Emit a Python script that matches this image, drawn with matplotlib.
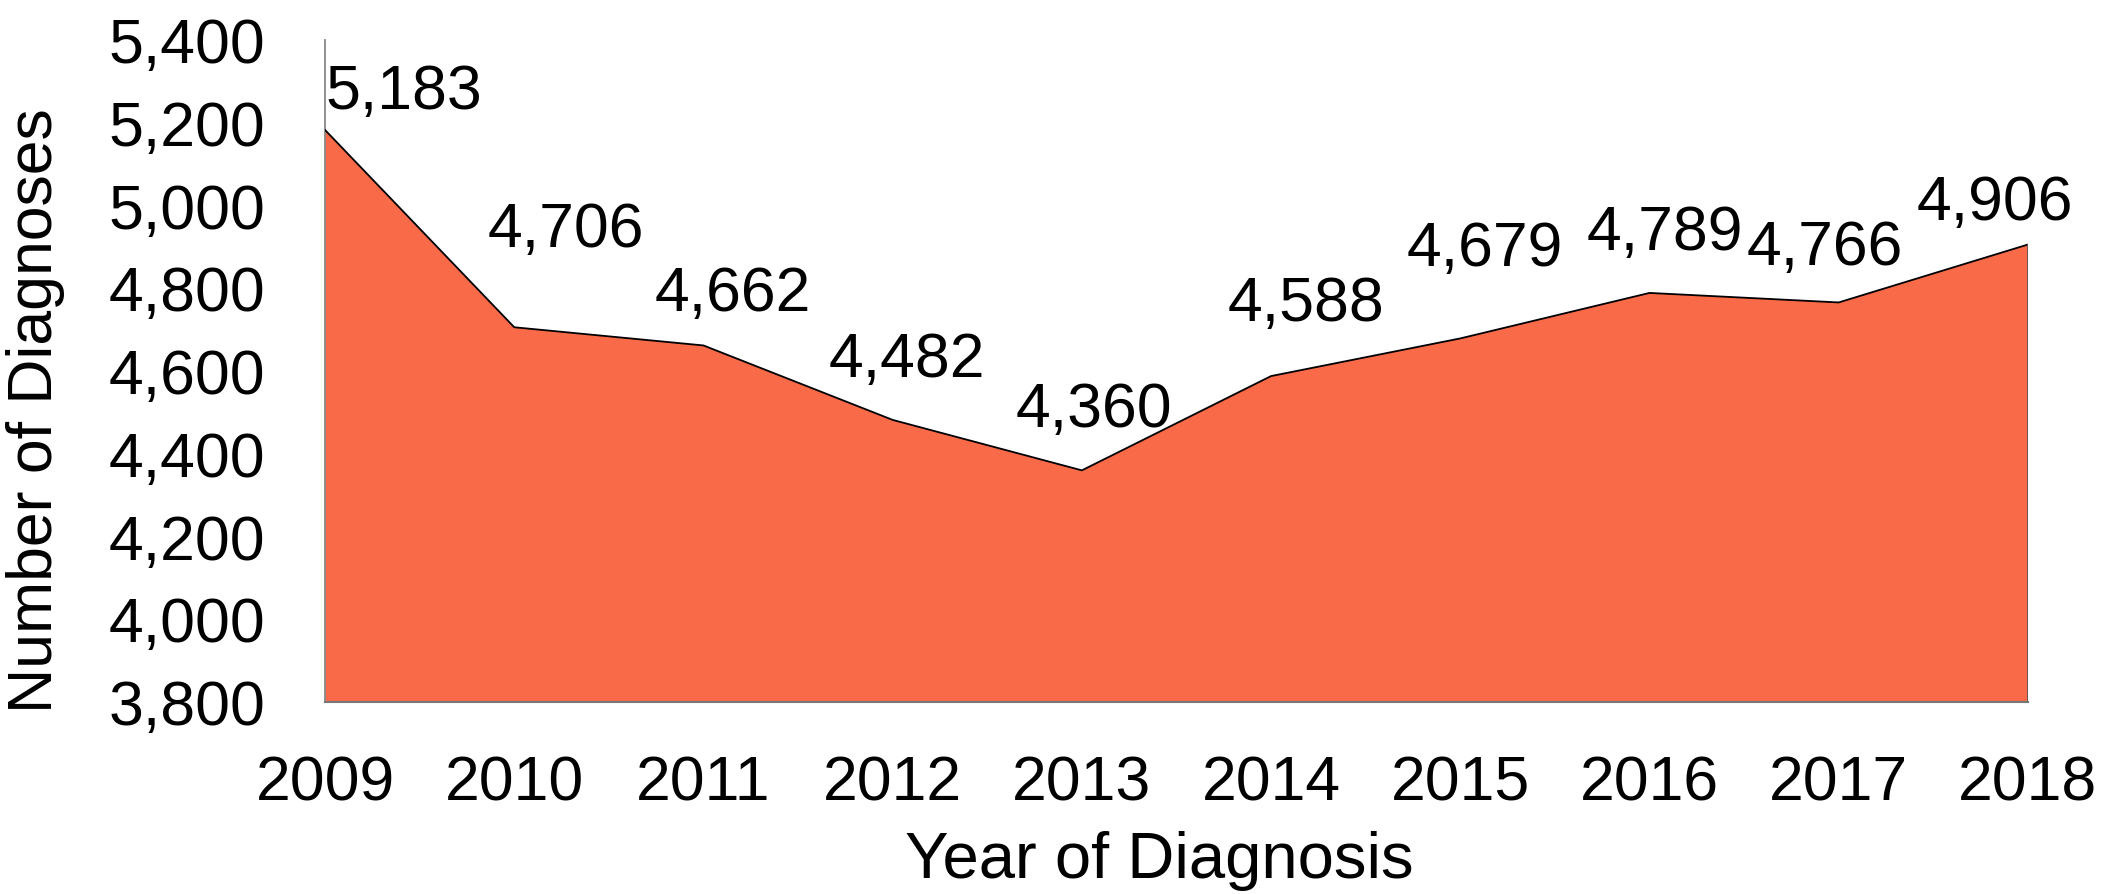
import matplotlib
matplotlib.use("Agg")
import matplotlib.pyplot as plt
from matplotlib.ticker import FuncFormatter

years = [2009, 2010, 2011, 2012, 2013, 2014, 2015, 2016, 2017, 2018]
diagnoses = [5183, 4706, 4662, 4482, 4360, 4588, 4679, 4789, 4766, 4906]
y_ticks = [3800, 4000, 4200, 4400, 4600, 4800, 5000, 5200, 5400]

# label placement offsets (points) relative to each point
label_dx = [0, 37, 21, 10, 9, 25, 18, 11, -10, -24]
label_dy = [15, 58, 25, 31, 31, 40, 52, 31, 27, 18]

plt.rcParams['font.family'] = ['Liberation Sans', 'DejaVu Sans']
FS = 45

fig = plt.figure(figsize=(21.08, 8.94), dpi=100)
ax = fig.add_axes([0.1542, 0.2148, 0.962 - 0.1542, 0.955 - 0.2148])

ymin, ymax = 3800, 5400
ax.fill_between(years, diagnoses, ymin, facecolor='#F96B48', edgecolor='none', zorder=2)
ax.plot(years, diagnoses, color='black', lw=1.3, zorder=3)
ax.plot([years[-1], years[-1]], [ymin, diagnoses[-1]], color='#555555', lw=1.3, zorder=3)
ax.plot([years[0], years[-1]], [ymin, ymin], color='#777777', lw=1.5, zorder=3, clip_on=False)

ax.set_xlim(years[0], years[-1])
ax.set_ylim(ymin, ymax)
ax.set_xticks(years)
ax.set_xticklabels([str(y) for y in years])
ax.set_yticks(y_ticks)
ax.yaxis.set_major_formatter(FuncFormatter(lambda v, p: f"{int(v):,}"))
ax.tick_params(axis='both', length=0, labelsize=FS)
ax.tick_params(axis='x', pad=38)
ax.tick_params(axis='y', pad=43)

for s in ['top', 'right', 'bottom']:
    ax.spines[s].set_visible(False)
ax.spines['left'].set_color('#888888')
ax.spines['left'].set_linewidth(1.3)

for i, (x, v) in enumerate(zip(years, diagnoses)):
    ha = 'left' if i == 0 else 'center'
    ax.annotate(f"{v:,}", xy=(x, v), xytext=(label_dx[i], label_dy[i]),
                textcoords='offset points', ha=ha, va='baseline',
                fontsize=FS, color='black', zorder=4, annotation_clip=False)

ax.set_xlabel('Year of Diagnosis', fontsize=47)
ax.xaxis.set_label_coords(0.49, -0.195)
ax.set_ylabel('Number of Diagnoses', fontsize=FS)
ax.yaxis.set_label_coords(-0.153, 0.44)

fig.savefig('out.png', dpi=100, facecolor='white')
